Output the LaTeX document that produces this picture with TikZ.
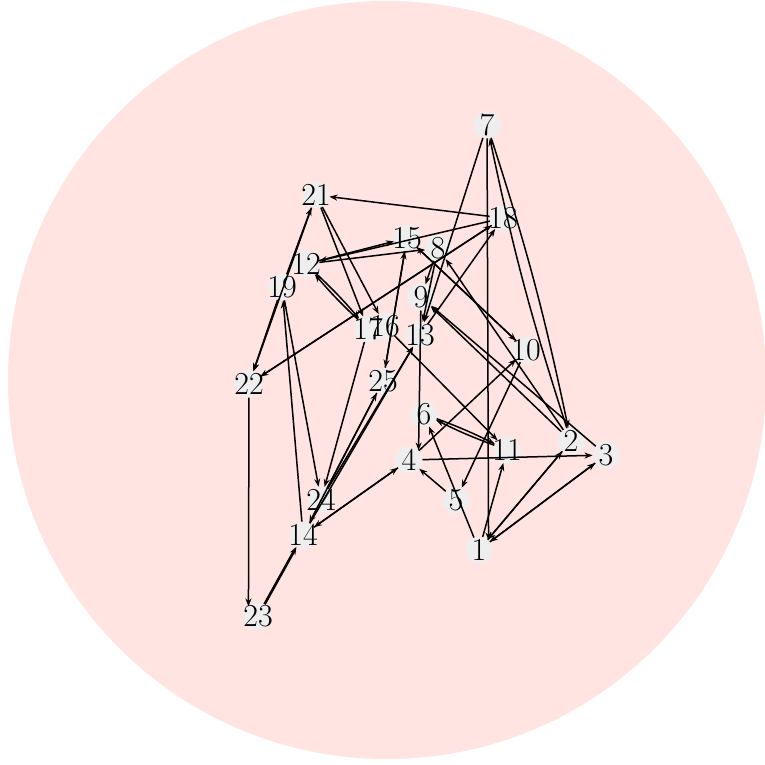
\documentclass[tikz,border=0pt]{standalone}
\usepackage{fontspec}
\setmainfont{Latin Modern Roman}
\usetikzlibrary{arrows.meta}
\definecolor{bgpink}{RGB}{255,228,225}
\definecolor{nodegrey}{RGB}{238,238,238}
\tikzset{
  vtx/.style={circle,fill=nodegrey,minimum size=27pt,inner sep=0pt,outer sep=0pt},
  lbl/.style={inner sep=0pt,font=\fontsize{20}{20}\selectfont,scale=1.6},
  edge/.style={-{Stealth[length=8pt,width=6pt]},line width=1.5pt,black},
  bl/.style={bend left=3},
  nob/.style={}
}
\begin{document}
\begin{tikzpicture}[x=1pt,y=-1pt]
\useasboundingbox (0,0) rectangle (764,765);
\fill[bgpink] (387,380) circle (379);
% vertices
\foreach \n/\x/\y in {1/479/550,2/571/441,3/606/455,4/409/460,5/456/500,6/424/414,7/487/125,8/438/248,9/421/297,10/526/350,11/507/450,12/306/264,13/420/335,14/303/535,15/407/238,16/385/326,17/368/329,18/503/218,19/282/287,21/316/195,22/249/384,23/258/616,24/321/500,25/383/381}{
  \node[vtx] (n\n) at (\x,\y) {};
}
% edges
\foreach \a/\b/\o in {7/13/nob,7/2/bl,2/7/bl,18/21/nob,18/12/nob,12/8/nob,12/15/nob,13/18/nob,18/22/nob,22/18/nob,8/9/nob,8/13/nob,4/10/nob,10/5/nob,15/10/nob,10/15/nob,2/8/nob,21/17/nob,21/16/nob,12/17/bl,17/12/bl,25/15/nob,15/25/nob,16/11/nob,17/24/nob,24/25/nob,24/13/nob,14/13/nob,19/21/nob,21/22/nob,19/22/nob,19/24/nob,14/19/nob,14/4/nob,4/14/nob,5/4/nob,1/6/nob,6/11/bl,11/6/bl,1/11/nob,1/2/nob,2/1/nob,1/3/nob,3/1/nob,4/3/nob,3/9/nob,2/9/nob,25/14/nob}{
  \draw[edge,\o] (n\a) to (n\b);
}
\draw[edge] (n9) to (n4.north east);
\draw[edge] (n7) to (n1.north east);
\draw[edge] (n22) to (n23.north west);
\draw[edge,line width=2.6pt] (n23) to (n14);
% labels
\foreach \n in {1,2,3,4,5,6,7,8,9,10,11,12,13,14,15,16,17,18,19,21,22,23,24,25}{
  \node[lbl] at (n\n) {\n};
}
\end{tikzpicture}
\end{document}
